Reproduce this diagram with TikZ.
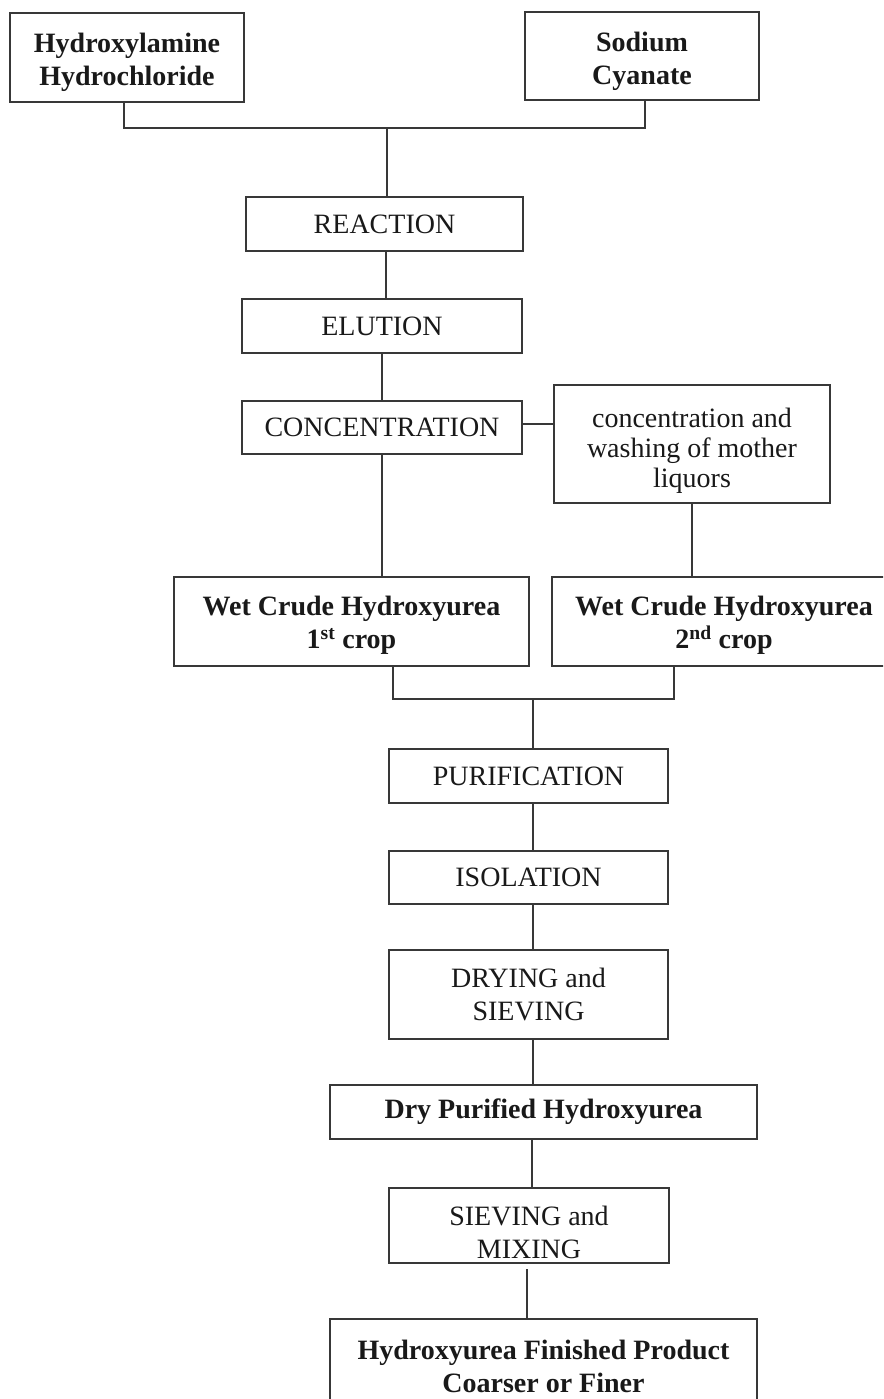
\documentclass[tikz,border=0pt]{standalone}
\usepackage{fontspec}
\setmainfont{Liberation Serif}
\begin{document}
\begin{tikzpicture}[x=1pt,y=-1pt,
  base/.style={draw=black!78, line width=2pt, inner sep=0pt, align=center,
    font=\fontsize{28pt}{33pt}\selectfont, text=black!90},
  pbox/.style={base},
  bbox/.style={base, font=\fontsize{28pt}{33pt}\selectfont\bfseries},
  ptxt/.style={inner sep=0pt, align=center, font=\fontsize{28pt}{33pt}\selectfont, text=black!90},
  btxt/.style={ptxt, font=\fontsize{28pt}{33pt}\selectfont\bfseries},
  conn/.style={draw=black!78, line width=2pt}]
\clip (0,0) rectangle (883,1399);
\fill[white] (0,0) rectangle (883,1399);

\node[pbox, minimum width=234pt, minimum height=89pt] (hh) at (127,57.5) {};
\node[btxt, yshift=-5pt] (hht) at (hh.center) {Hydroxylamine\\Hydrochloride};
\node[pbox, minimum width=234pt, minimum height=88pt] (sc) at (642,56) {};
\node[btxt, yshift=-5pt] (sct) at (sc.center) {Sodium\\Cyanate};
\node[pbox, minimum width=277pt, minimum height=54pt] (re) at (384.5,224) {REACTION};
\node[pbox, minimum width=280pt, minimum height=54pt] (el) at (382,326) {ELUTION};
\node[pbox, minimum width=280pt, minimum height=53pt] (co) at (382,427.5) {CONCENTRATION};
\node[pbox, minimum width=276pt, minimum height=118pt] (b6) at (692,444) {};
\node[ptxt, yshift=-7pt, font=\fontsize{28pt}{30pt}\selectfont] (b6t) at (b6.center) {concentration and\\washing of mother\\liquors};
\node[pbox, minimum width=355pt, minimum height=89pt] (w1) at (351.5,621.5) {};
\node[btxt, yshift=-4pt] (w1t) at (w1.center) {Wet Crude Hydroxyurea\\1\textsuperscript{st} crop};
\node[pbox, minimum width=344pt, minimum height=89pt] (w2) at (724,621.5) {};
\node[btxt, yshift=-4pt] (w2t) at (w2.center) {Wet Crude Hydroxyurea\\2\textsuperscript{nd} crop};
\node[pbox, minimum width=279pt, minimum height=54pt] (pu) at (528.5,776) {PURIFICATION};
\node[pbox, minimum width=279pt, minimum height=53pt] (is) at (528.5,877.5) {ISOLATION};
\node[pbox, minimum width=279pt, minimum height=89pt] (dr) at (528.5,994.5) {DRYING and\\SIEVING};
\node[bbox, minimum width=427pt, minimum height=54pt] (dp) at (543.5,1112) {Dry Purified Hydroxyurea};
\node[pbox, minimum width=280pt, minimum height=75pt] (sm) at (529,1225.5) {};
\node[ptxt, yshift=-7pt] (smt) at (sm.center) {SIEVING and\\MIXING};
\node[bbox, minimum width=427pt, minimum height=94pt] (fp) at (543.5,1366) {Hydroxyurea Finished Product\\Coarser or Finer};

\coordinate (j1) at (387,128);
\coordinate (j2) at (533,699);
\coordinate (sp) at (533,0);
\coordinate (sq) at (527,0);

\draw[conn] ([xshift=-3pt]hh.south) |- (j1) -| ([xshift=3pt]sc.south);
\draw[conn] (j1) -- (j1 |- re.north);
\draw[conn] ([xshift=1.5pt]re.south) -- ([xshift=1.5pt]re.south |- el.north);
\draw[conn] (el.south) -- (el.south |- co.north);
\draw[conn] ([yshift=3.5pt]co.east) -- ([yshift=3.5pt]co.east -| b6.west);
\draw[conn] (co.south) -- (co.south |- w1.north);
\draw[conn] (b6.south) -- (b6.south |- w2.north);
\draw[conn] ([xshift=41.5pt]w1.south) |- (j2) -| ([xshift=-50pt]w2.south);
\draw[conn] (j2) -- (j2 |- pu.north);
\draw[conn] (pu.south -| sp) -- (is.north -| sp);
\draw[conn] (is.south -| sp) -- (dr.north -| sp);
\draw[conn] (dr.south -| sp) -- (dp.north -| sp);
\draw[conn] ([xshift=-1pt]dp.south -| sp) -- ([xshift=-1pt]sm.north -| sp);
\draw[conn] ([yshift=-5pt]sm.south -| sq) -- (fp.north -| sq);
\end{tikzpicture}
\end{document}
